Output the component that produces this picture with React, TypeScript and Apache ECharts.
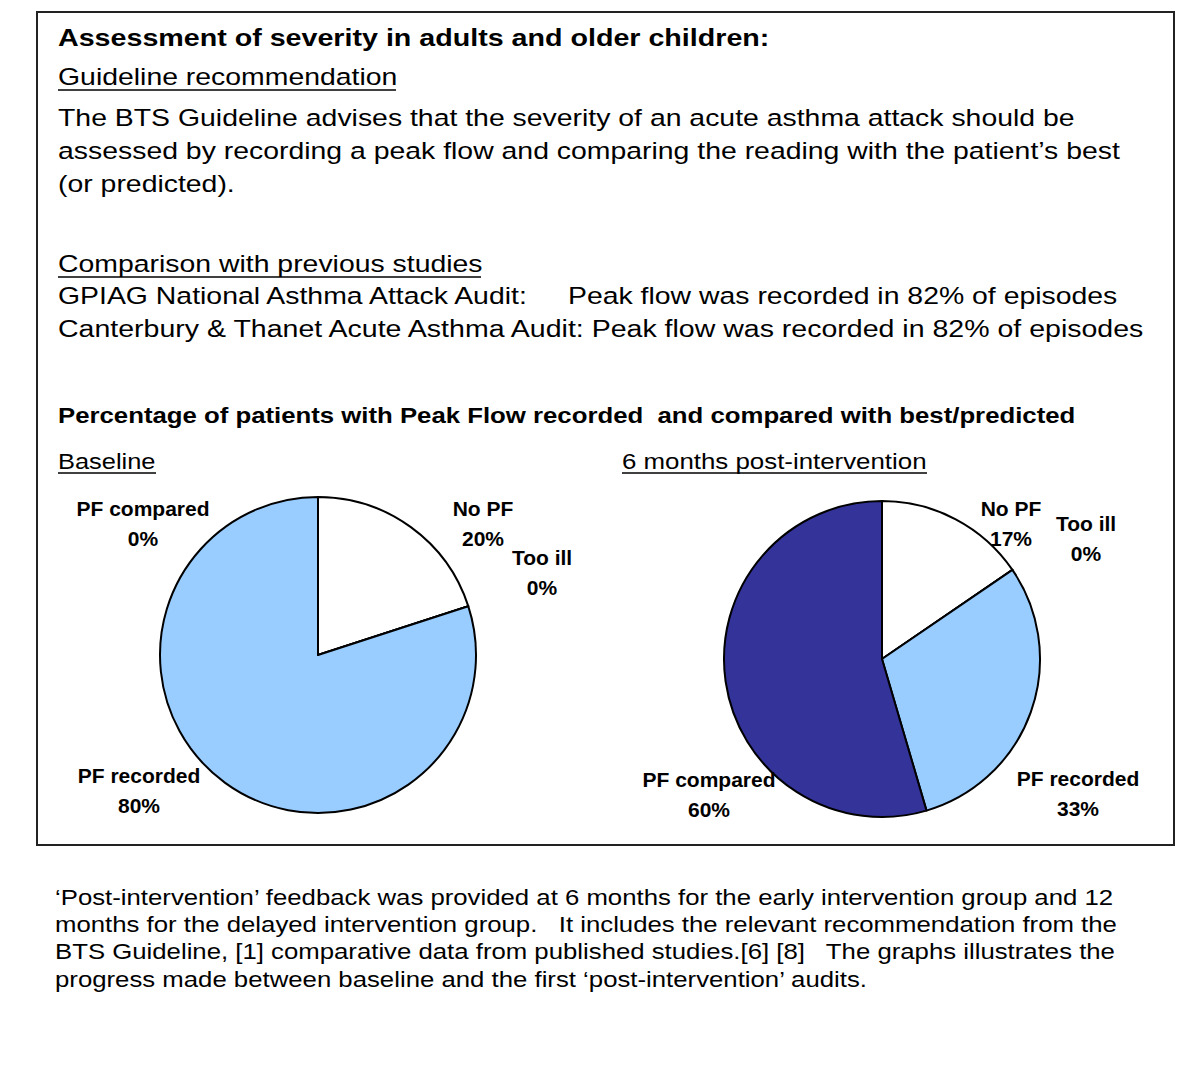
import React, { useEffect, useRef } from 'react';
import * as echarts from 'echarts';

// ---------- data ----------
const categories = ['No PF', 'Too ill', 'PF recorded', 'PF compared'];
const baselineValues = [20, 0, 80, 0];
const postValues = [17, 0, 33, 60];
const sliceColors = ['#FFFFFF', '#FFFF99', '#99CCFF', '#333399'];

const titleText = 'Assessment of severity in adults and older children:';
const guidelineHeading = 'Guideline recommendation';
const guidelineLines = [
  'The BTS Guideline advises that the severity of an acute asthma attack should be',
  'assessed by recording a peak flow and comparing the reading with the patient\u2019s best',
  '(or predicted).',
];
const comparisonHeading = 'Comparison with previous studies';
const study1Name = 'GPIAG National Asthma Attack Audit:';
const study1Result = 'Peak flow was recorded in 82% of episodes';
const study2Line = 'Canterbury & Thanet Acute Asthma Audit: Peak flow was recorded in 82% of episodes';
const chartHeading = 'Percentage of patients with Peak Flow recorded  and compared with best/predicted';
const baselineTitle = 'Baseline';
const postTitle = '6 months post-intervention';
const footerLines = [
  '\u2018Post-intervention\u2019 feedback was provided at 6 months for the early intervention group and 12',
  'months for the delayed intervention group.   It includes the relevant recommendation from the',
  'BTS Guideline, [1] comparative data from published studies.[6] [8]   The graphs illustrates the',
  'progress made between baseline and the first \u2018post-intervention\u2019 audits.',
];

// ---------- layout ----------
const FONT = '"Liberation Sans", Arial, Helvetica, sans-serif';
const SX = 1.15;
const labelPos = [
  [[483, 523], [542, 572], [139, 790], [143, 523]],
  [[1011, 523], [1086, 538], [1078, 793], [709, 794]],
];

function txt(text: string, x: number, y: number, size: number, bold = false, sx = SX) {
  return {
    type: 'text',
    x,
    y,
    scaleX: sx,
    scaleY: 1,
    silent: true,
    style: {
      text,
      x: 0,
      y: 0,
      fill: '#000',
      font: `${bold ? 'bold ' : ''}${size}px ${FONT}`,
      textAlign: 'left',
      textVerticalAlign: 'middle',
    },
  };
}

function uline(x1: number, x2: number, y: number) {
  return {
    type: 'line',
    silent: true,
    shape: { x1, y1: y, x2, y2: y },
    style: { stroke: '#000', lineWidth: 1.5 },
  };
}

export default function App() {
  const ref = useRef<HTMLDivElement>(null);

  useEffect(() => {
    if (!ref.current) return;
    const chart = echarts.init(ref.current, undefined, { renderer: 'svg' });

    const makeData = (vals: number[]) =>
      categories.map((name, i) => ({ name, value: vals[i], itemStyle: { color: sliceColors[i] } }));

    const pieBase = {
      type: 'pie',
      radius: 158,
      startAngle: 90,
      clockwise: true,
      avoidLabelOverlap: false,
      minShowLabelAngle: 0,
      silent: true,
      itemStyle: { borderColor: '#000', borderWidth: 2 },
      label: {
        show: true,
        formatter: '{b}\n{c}%',
        fontFamily: FONT,
        fontWeight: 'bold',
        fontSize: 21,
        lineHeight: 30,
        color: '#000',
        align: 'center',
      },
      labelLine: { show: false },
      emphasis: { disabled: true },
      labelLayout: (params: any) => {
        const p = labelPos[params.seriesIndex][params.dataIndex];
        return { x: p[0], y: p[1], align: 'center', verticalAlign: 'middle' };
      },
    };

    const graphics: any[] = [
      {
        type: 'rect',
        silent: true,
        shape: { x: 37, y: 12, width: 1137, height: 833 },
        style: { fill: 'none', stroke: '#222', lineWidth: 2 },
      },
      txt(titleText, 58, 38, 24.7, true, 1.16),
      txt(guidelineHeading, 58, 77, 24.7),
      uline(58, 396, 90),
      ...guidelineLines.map((l, i) => txt(l, 58, 118 + i * 33, 24.7)),
      txt(comparisonHeading, 58, 264, 24.7),
      uline(58, 481, 277),
      txt(study1Name, 58, 296, 24.7),
      txt(study1Result, 568, 296, 24.7),
      txt(study2Line, 58, 329, 24.7, false, 1.155),
      txt(chartHeading, 58, 415, 22.6, true, 1.14),
      txt(baselineTitle, 58, 461, 22.3, false, 1.14),
      uline(58, 156, 473),
      txt(postTitle, 622, 461, 22.3, false, 1.16),
      uline(622, 927, 473),
      ...footerLines.map((l, i) => txt(l, 55, 897 + i * 27.3, 22.4, false, 1.15)),
    ];

    chart.setOption({
      animation: false,
      backgroundColor: '#fff',
      graphic: { elements: graphics },
      series: [
        { ...pieBase, name: 'Baseline', center: [318, 655], data: makeData(baselineValues) },
        { ...pieBase, name: '6 months post-intervention', center: [882, 659], data: makeData(postValues) },
      ],
    });

    return () => chart.dispose();
  }, []);

  return (
    <div
      ref={ref}
      style={{ position: 'fixed', left: 0, top: 0, width: 1200, height: 1069, background: '#fff' }}
    />
  );
}
